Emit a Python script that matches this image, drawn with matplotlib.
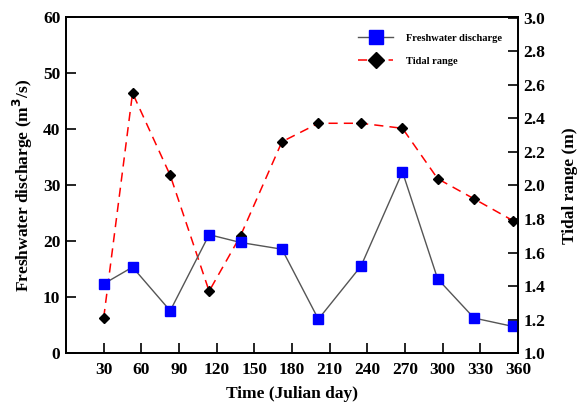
import numpy as np
import matplotlib
matplotlib.use("Agg")
import matplotlib.pyplot as plt

plt.rcParams['font.family'] = ['Liberation Serif', 'DejaVu Serif']
plt.rcParams['font.weight'] = 'bold'

# julian days of the surveys
days = [30, 53, 83, 114, 139, 172, 201, 235, 268, 296, 325, 356]
# freshwater discharge (m3/s)
discharge = [12.4, 15.4, 7.6, 21.2, 19.8, 18.6, 6.1, 15.6, 32.4, 13.3, 6.3, 4.8]
# tidal range (m)
tidal = [1.21, 2.55, 2.06, 1.37, 1.70, 2.26, 2.37, 2.37, 2.34, 2.04, 1.92, 1.79]

xticks = [30, 60, 90, 120, 150, 180, 210, 240, 270, 300, 330, 360]

fig = plt.figure(figsize=(5.87, 4.03), dpi=100)
ax1 = fig.add_axes([66/587, 1 - 353.3/403, (518-66)/587, (353.3-17.5)/403])
ax2 = ax1.twinx()
ax1.set_zorder(ax2.get_zorder() + 1)
ax1.patch.set_visible(False)

l1, = ax1.plot(days, discharge, color='#555555', lw=1.0, marker='s', ms=7,
               mfc='blue', mec='blue', label='Freshwater discharge')
l2, = ax2.plot(days, tidal, color='red', lw=1.1, ls=(0, (6, 4)), marker='D', ms=5.5,
               mfc='black', mec='black', label='Tidal range')

ax1.set_xlim(0, 360)
ax1.set_ylim(0, 60)
ax2.set_ylim(1.0, 3.0)
ax1.set_xticks(xticks)
ax1.set_yticks(np.arange(0, 61, 10))
ax2.set_yticks(np.arange(1.0, 3.01, 0.2))
ax2.yaxis.set_major_formatter(matplotlib.ticker.FormatStrFormatter('%.1f'))

for ax in (ax1, ax2):
    ax.tick_params(direction='in', length=7, width=1.2, labelsize=12.5, pad=4)
    for s in ax.spines.values():
        s.set_linewidth(1.3)
ax1.tick_params(axis='x', pad=6)
ax1.tick_params(top=False)

ax1.set_xlabel('Time (Julian day)', fontsize=12.5, fontweight='bold', labelpad=6)
ax1.set_ylabel('Freshwater discharge (m$^\\mathbf{3}$/s)', fontsize=12.5, fontweight='bold', labelpad=6)
ax2.set_ylabel('Tidal range (m)', fontsize=12.5, fontweight='bold', labelpad=12)

leg = ax1.legend(handles=[l1, l2], loc='upper right', frameon=False, fontsize=7.5,
                 handlelength=3.4, markerscale=1.4, labelspacing=1.3,
                 handletextpad=1.2, bbox_to_anchor=(0.985, 0.98))

fig.savefig('out.png', dpi=100)
